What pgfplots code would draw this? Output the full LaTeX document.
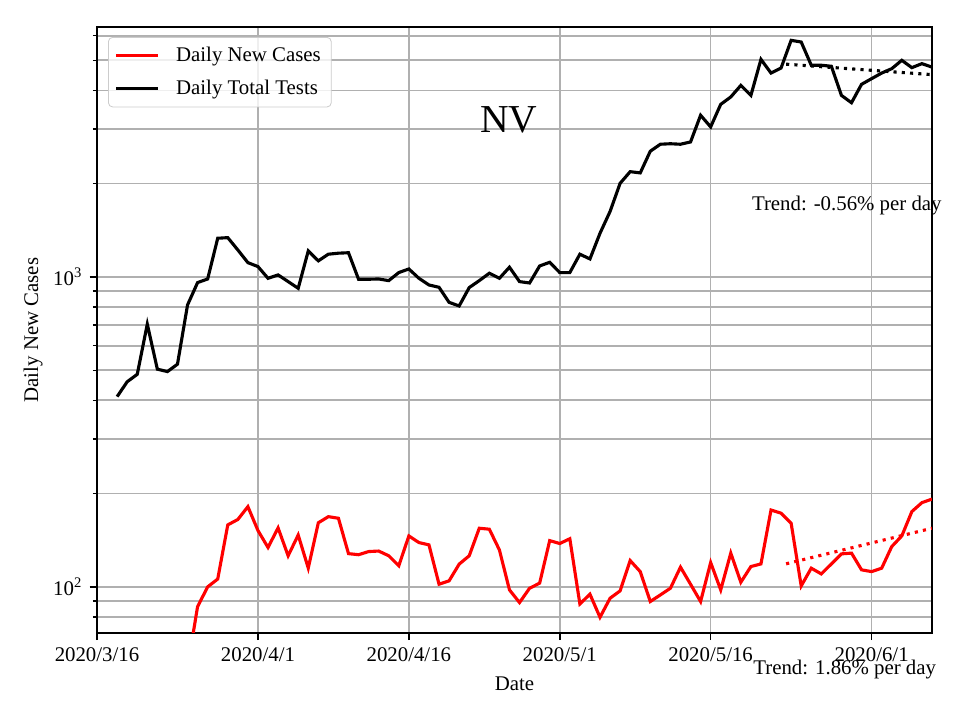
\documentclass[border=0pt]{standalone}
\usepackage{pgfplots}
\pgfplotsset{compat=1.18}
\usepackage{fontspec}
\setmainfont{Liberation Serif}
\definecolor{gridgray}{HTML}{B0B0B0}
\definecolor{legframe}{HTML}{CCCCCC}
\begin{document}
\begin{tikzpicture}
\useasboundingbox (-46.56pt,-41.76pt) rectangle (414.24pt,303.84pt);
\begin{axis}[
  at={(0,0)}, anchor=south west,
  scale only axis, width=400.8pt, height=290.88pt,
  ymode=log, xmin=0, xmax=83, ymin=71, ymax=6404,
  clip mode=individual,
  axis line style={line width=0.8pt},
  tick pos=left, tick align=outside,
  major tick length=3.5pt, minor tick length=2pt,
  every tick/.style={black, line width=0.8pt},
  every minor tick/.style={black, line width=0.6pt},
  xtick={0,16,31,46,61,77},
  xticklabels={2020/3/16,2020/4/1,2020/4/16,2020/5/1,2020/5/16,2020/6/1},
  ytick={100,1000},
  yticklabels={10\textsuperscript{2},10\textsuperscript{3}},
  minor ytick={80,90,200,300,400,500,600,700,800,900,2000,3000,4000,5000,6000},
  grid=both,
  major grid style={gridgray, line width=0.8pt},
  minor grid style={gridgray, line width=0.8pt},
  tick label style={font=\fontsize{10}{12}\selectfont},
  xlabel={Date}, ylabel={Daily New Cases},
  every axis x label/.style={at={(rel axis cs:0.5,0)}, anchor=center, yshift=-24.5pt},
  every axis y label/.style={at={(rel axis cs:-0.0766,0.5)}, rotate=90, anchor=center},
  legend cell align=left,
  legend style={at={(rel axis cs:0,1)}, anchor=north west, xshift=5.3pt, yshift=-4.8pt,
    draw=legframe, rounded corners=2pt, fill=white, fill opacity=0.8, text opacity=1,
    inner xsep=3pt, inner ysep=2.5pt, row sep=3.5pt, font=\fontsize{10}{12}\selectfont},
  legend image code/.code={\draw[#1] (0em,0em) -- (2em,0em); \path (2.6em,0em);},
]
\addplot[red, line width=1.5pt] coordinates {
(9,55) (10,86.4) (11,100) (12,106) (13,158.5) (14,165) (15,181.5) (16,152) (17,134) (18,155)
(19,126) (20,147) (21,115) (22,161) (23,168.5) (24,166.5) (25,128) (26,127) (27,130) (28,130.5)
(29,126) (30,117) (31,146) (32,139) (33,136.6) (34,102) (35,104.6) (36,118.4) (37,126) (38,154.6)
(39,153.5) (40,131.6) (41,97.8) (42,89) (43,99) (44,102.8) (45,141) (46,138) (47,143) (48,88.1)
(49,94.7) (50,79.8) (51,91.9) (52,97.1) (53,121.6) (54,112) (55,89.7) (56,94.2) (57,99) (58,115.8)
(59,102) (60,89.7) (61,119.8) (62,97.8) (63,128.5) (64,103.5) (65,116.3) (66,118.6) (67,177) (68,172.9)
(69,160.5) (70,100.7) (71,114.9) (72,110.1) (73,118.6) (74,127.8) (75,128.5) (76,113.5) (77,112) (78,114.9)
(79,134.9) (80,146) (81,175) (82,187) (83,192)
};
\addlegendentry{Daily New Cases}
\addplot[black, line width=1.5pt] coordinates {
(2,411) (3,459) (4,485) (5,704) (6,504) (7,495) (8,523) (9,812) (10,959) (11,985)
(12,1333) (13,1339) (14,1222) (15,1112) (16,1080) (17,990) (18,1015) (19,966) (20,919) (21,1213)
(22,1127) (23,1184) (24,1193) (25,1197) (26,983) (27,983) (28,985) (29,973) (30,1033) (31,1061)
(32,990) (33,942) (34,926) (35,828) (36,806) (37,924) (38,973) (39,1028) (40,990) (41,1075)
(42,966) (43,956) (44,1085) (45,1115) (46,1033) (47,1033) (48,1184) (49,1143) (50,1383) (51,1626)
(52,2005) (53,2186) (54,2166) (55,2545) (56,2680) (57,2690) (58,2680) (59,2726) (60,3324) (61,3048)
(62,3605) (63,3808) (64,4150) (65,3853) (66,5034) (67,4548) (68,4722) (69,5800) (70,5728) (71,4820)
(72,4820) (73,4783) (74,3853) (75,3648) (76,4183) (77,4363) (78,4548) (79,4698) (80,5000) (81,4734)
(82,4877) (83,4753)
};
\addlegendentry{Daily Total Tests}
\addplot[red, line width=1.5pt, dash pattern=on 1.5pt off 2.475pt, forget plot] coordinates {(68.5,118.7) (83,154.6)};
\addplot[black, line width=1.5pt, dash pattern=on 1.5pt off 2.475pt, forget plot] coordinates {(68.5,4858) (83,4495)};
\node[anchor=base, font=\fontsize{19}{22}\selectfont, inner sep=0pt] at (rel axis cs:0.4934,0.8267) {NV};
\node[anchor=base west, inner sep=0pt, font=\fontsize{10}{12}\selectfont] at (rel axis cs:0.784,0.698) {Trend: -0.56\% per day};
\node[anchor=base west, inner sep=0pt, font=\fontsize{10}{12}\selectfont] at (rel axis cs:0.7856,-0.068) {Trend: 1.86\% per day};
\end{axis}
\end{tikzpicture}
\end{document}
